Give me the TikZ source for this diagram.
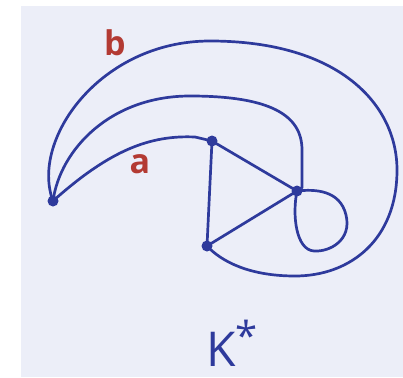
\documentclass[tikz,border=0pt]{standalone}
\usepackage{fontspec}
\setsansfont{Open Sans}
\definecolor{paper}{HTML}{ECEEF8}
\definecolor{ink}{HTML}{2E3A9C}
\definecolor{redink}{HTML}{B33A33}
\begin{document}
\begin{tikzpicture}[x=1pt,y=-1pt,
  edge/.style={draw=ink,line width=2.7pt,line cap=round,line join=round},
  vtx/.style={circle,fill=ink,inner sep=0pt,minimum size=11pt},
  lbl/.style={text=redink,font=\sffamily\bfseries\fontsize{34}{34}\selectfont},
  title/.style={text=ink,font=\sffamily\fontsize{48}{48}\selectfont,inner sep=0pt}]
\useasboundingbox (0,0) rectangle (403,377);
\fill[white] (0,0) rectangle (403,377);
\fill[paper] (21,6) rectangle (403,377);
% vertices
\node[vtx] (L) at (53,201) {};
\node[vtx] (T) at (212,141) {};
\node[vtx] (R) at (297,191) {};
\node[vtx] (B) at (207,246) {};
\coordinate (Rtop) at (302,188);
% triangle
\draw[edge] (T.center) -- (R.center) -- (B.center) -- cycle;
% edge a
\draw[edge] (L.center) .. controls (110,150) and (150,135) .. (195,137) -- (T.center);
% middle edge
\draw[edge] (L.center) .. controls (60,150) and (110,96) .. (190,96)
  .. controls (270,96) and (302,115) .. (302,150) -- (Rtop);
% edge b
\draw[edge] (L.center) .. controls (30,140) and (100,41) .. (210,41)
  .. controls (340,41) and (397,105) .. (397,170)
  .. controls (397,240) and (350,276) .. (295,276)
  .. controls (250,276) and (222,262) .. (B.center);
% loop
\draw[edge] (R.center) .. controls (315,189) and (340,190) .. (346,215)
  .. controls (352,240) and (330,252) .. (314,251)
  .. controls (296,250) and (292,215) .. (R.center);
% labels
\node[lbl] (lb) at (115,43) {b};
\node[lbl] (la) at (140,164) {a};
\node[title,anchor=base] (k) at (232,366) {K\raisebox{0.33em}{\fontsize{40}{40}\selectfont *}};
\end{tikzpicture}
\end{document}
